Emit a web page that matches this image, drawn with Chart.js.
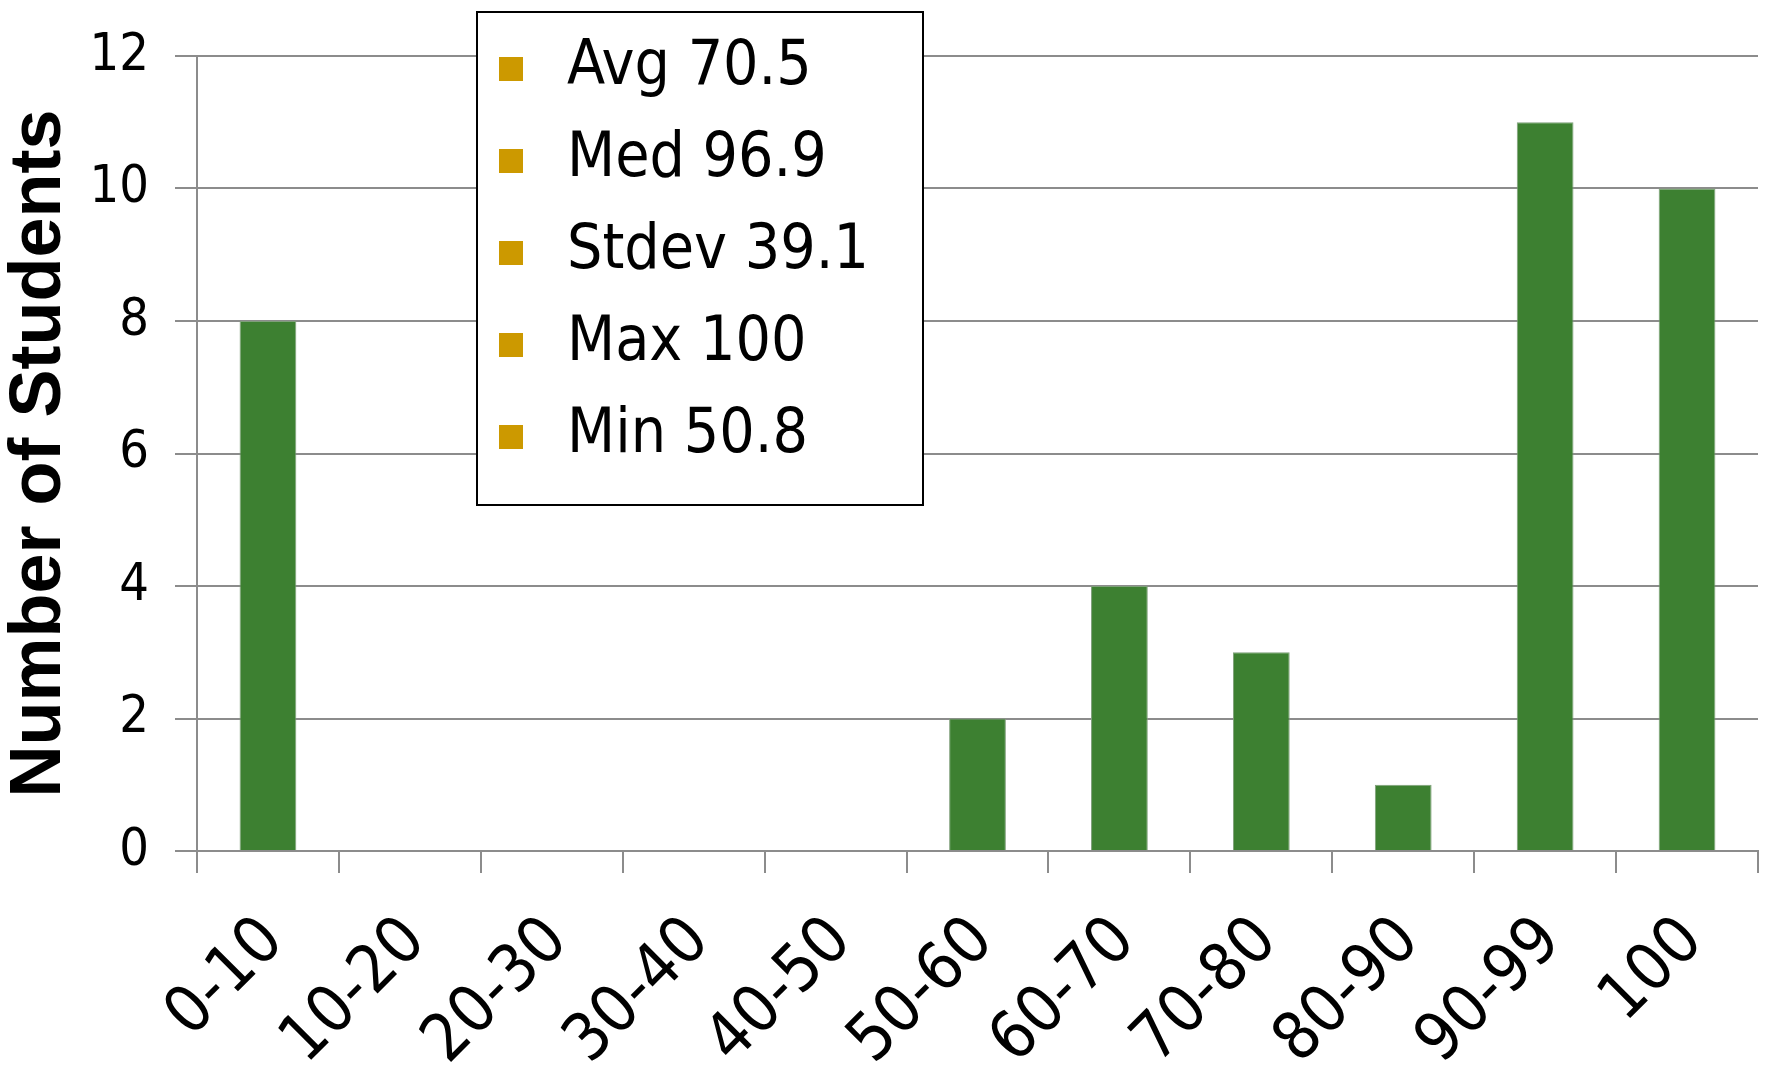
<!DOCTYPE html>
<html>
<head>
<meta charset="utf-8">
<script src="https://cdn.jsdelivr.net/npm/chart.js@4"></script>
<style>
  html, body { margin: 0; padding: 0; background: #fff; overflow: hidden; }
  #wrap { position: relative; width: 1767px; height: 1067px; }
  #c { position: absolute; left: 0; top: 0; }
  #legend { position: absolute; left: 476px; top: 11px; width: 448px; height: 495px;
    box-sizing: border-box; border: 2px solid #000; background: #fff; }
  .sq { position: absolute; width: 24px; height: 24px; background: #CC9900; }
  .lt { position: absolute; font-family: 'DejaVu Sans Condensed', 'DejaVu Sans', sans-serif;
    font-size: 62px; line-height: 62px; color: #000; white-space: nowrap; }
</style>
</head>
<body>
<div id="wrap">
  <canvas id="c" width="1767" height="1067"></canvas>
  <div id="legend"></div>
</div>
<script>
const categories = ['0-10','10-20','20-30','30-40','40-50','50-60','60-70','70-80','80-90','90-99','100'];
const studentCounts = [8, 0, 0, 0, 0, 2, 4, 3, 1, 11, 10];
const yTicks = [0, 2, 4, 6, 8, 10, 12];
const statLabels = ['Avg', 'Med', 'Stdev', 'Max', 'Min'];
const statValues = ['70.5', '96.9', '39.1', '100', '50.8'];
const yTitle = 'Number of Students';

// legend (HTML overlay)
const legend = document.getElementById('legend');
statLabels.forEach((lab, i) => {
  const sq = document.createElement('div');
  sq.className = 'sq';
  sq.style.left = (499 - 478) + 'px';
  sq.style.top = (57 + 92 * i - 13) + 'px';
  legend.appendChild(sq);
  const t = document.createElement('div');
  t.className = 'lt';
  t.style.left = (567 - 478) + 'px';
  t.style.top = (31.5 + 92 * i - 13) + 'px';
  t.textContent = lab + ' ' + statValues[i];
  legend.appendChild(t);
});

const FONT = "'DejaVu Sans Condensed', 'DejaVu Sans', sans-serif";
const GRID = '#8c8c8c';

new Chart(document.getElementById('c'), {
  type: 'bar',
  data: {
    labels: categories,
    datasets: [{
      data: studentCounts,
      backgroundColor: '#3D8031',
      borderColor: '#7f9f7a',
      borderWidth: 1,
      categoryPercentage: 1.0,
      barPercentage: 0.4
    }]
  },
  options: {
    responsive: false,
    animation: false,
    devicePixelRatio: 1,
    layout: { padding: { top: 56, right: 9, left: 0, bottom: 0 } },
    plugins: { legend: { display: false }, tooltip: { enabled: false } },
    scales: {
      x: {
        grid: { drawOnChartArea: false, drawTicks: true, tickLength: 22, color: GRID, lineWidth: 2 },
        border: { color: GRID, width: 2 },
        ticks: {
          color: '#000', font: { family: FONT, size: 66 },
          minRotation: 45, maxRotation: 45, padding: 30, labelOffset: 6, autoSkip: false
        },
        afterFit: (s) => { s.height = 216; s.paddingLeft = 0; s.paddingRight = 0; }
      },
      y: {
        min: 0, max: 12,
        afterBuildTicks: (s) => { s.ticks = yTicks.map(v => ({ value: v })); },
        grid: { color: GRID, lineWidth: 2, tickLength: 22 },
        border: { color: GRID, width: 2 },
        ticks: { color: '#000', font: { family: FONT, size: 52 }, padding: 26 },
        title: {
          display: true, text: yTitle, color: '#000',
          font: { family: "'Liberation Sans', Arial, sans-serif", size: 72, weight: 'bold', lineHeight: 1.12 },
          padding: 0
        },
        afterFit: (s) => { s.width = 197; s.paddingTop = 0; s.paddingBottom = 0; }
      }
    }
  }
});
</script>
</body>
</html>
